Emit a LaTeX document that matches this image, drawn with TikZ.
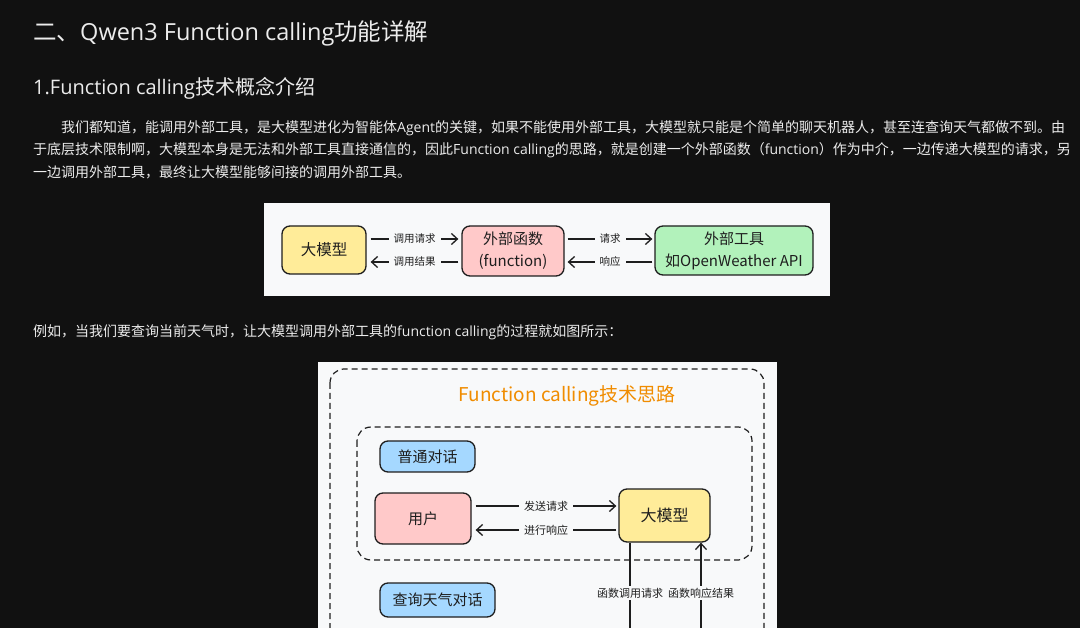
\documentclass[tikz,border=0pt]{standalone}
\usepackage{fontspec}
\setmainfont{Noto Sans CJK SC}
\newfontfamily\lat{Open Sans}
\usetikzlibrary{arrows.meta, calc}
\definecolor{pagebg}{HTML}{111111}
\definecolor{pagetext}{HTML}{ECECEC}
\definecolor{diagbg}{HTML}{F8F9FA}
\definecolor{strokecol}{HTML}{1E1E1E}
\definecolor{fillyellow}{HTML}{FFEC99}
\definecolor{fillred}{HTML}{FFC9C9}
\definecolor{fillgreen}{HTML}{B2F2BB}
\definecolor{fillblue}{HTML}{A5D8FF}
\definecolor{titleorange}{HTML}{F08C00}

\begin{document}
\begin{tikzpicture}[x=1pt, y=-1pt,
    every node/.style={inner sep=0pt},
    heading/.style={anchor=west, text=pagetext},
    para/.style={anchor=west, text=pagetext, font=\fontsize{14}{16}\selectfont},
    card/.style={draw=strokecol, line width=1.3pt, rounded corners=8pt, text=strokecol, align=center},
    flow/.style={draw=strokecol, line width=1.3pt, -{Straight Barb[length=6pt, width=11pt]}},
    tag/.style={fill=diagbg, inner xsep=5pt, inner ysep=2pt, text=strokecol},
    frame/.style={draw=strokecol, line width=1.2pt, dash pattern=on 6pt off 4pt, rounded corners=14pt}
]

\useasboundingbox (0,0) rectangle (1080,628);
\clip (0,0) rectangle (1080,628);
\fill[pagebg] (0,0) rectangle (1080,628);

% Page text
\node[heading, font=\fontsize{23.5}{26}\selectfont] (title) at (33,33) {二、{\lat Qwen3 Function calling}功能详解};
\node[heading, font=\fontsize{20}{24}\selectfont] (subtitle) at (33,88) {{\lat 1.Function calling}技术概念介绍};

\node[para] (line1) at (61,128) {我们都知道，能调用外部工具，是大模型进化为智能体{\lat Agent}的关键，如果不能使用外部工具，大模型就只能是个简单的聊天机器人，甚至连查询天气都做不到。由};
\node[para] (line2) at (33,150) {于底层技术限制啊，大模型本身是无法和外部工具直接通信的，因此{\lat Function calling}的思路，就是创建一个外部函数（{\lat function}）作为中介，一边传递大模型的请求，另};
\node[para] (line3) at (33,172) {一边调用外部工具，最终让大模型能够间接的调用外部工具。};

\node[para] (line4) at (33,332) {例如，当我们要查询当前天气时，让大模型调用外部工具的{\lat function calling}的过程就如图所示：};

% Diagram 1
\fill[diagbg] (264,203) rectangle (830,296);

\node[card, fill=fillyellow, minimum width=84pt, minimum height=48pt, font=\fontsize{15.5}{22}\selectfont] (llmA) at (324,250) {大模型};
\node[card, fill=fillred, minimum width=102pt, minimum height=50pt, font=\fontsize{15}{22}\selectfont] (funcA) at (513,251) {外部函数\\(function)};
\node[card, fill=fillgreen, minimum width=158pt, minimum height=49pt, font=\fontsize{15}{22}\selectfont] (toolA) at (734,250.5) {外部工具\\如OpenWeather API};

\begin{scope}[every node/.append style={font=\fontsize{10.5}{12}\selectfont}]
\draw[flow] ($(llmA.east)+(4,-11)$) -- node[tag] {调用请求} ($(funcA.west)+(-3,-12)$);
\draw[flow] ($(funcA.west)+(-3,11)$) -- node[tag] {调用结果} ($(llmA.east)+(4,12)$);
\draw[flow] ($(funcA.east)+(3,-12)$) -- node[tag] {请求} ($(toolA.west)+(-2,-11.5)$);
\draw[flow] ($(toolA.west)+(-2,11.5)$) -- node[tag] {响应} ($(funcA.east)+(3,11)$);
\end{scope}

% Diagram 2
\fill[diagbg] (318,362) rectangle (777,640);
\draw[frame] (330,369) rectangle (764,700);
\node[font=\fontsize{19}{22}\selectfont, text=titleorange] (flowtitle) at (567,396) {Function calling技术思路};
\draw[frame] (357,427) rectangle (752,560);

\node[card, fill=fillblue, minimum width=95pt, minimum height=31pt, font=\fontsize{15}{18}\selectfont] (chat) at (427.5,456.5) {普通对话};
\node[card, fill=fillred, minimum width=96pt, minimum height=51pt, font=\fontsize{15}{18}\selectfont] (user) at (423,518.5) {用户};
\node[card, fill=fillyellow, minimum width=91pt, minimum height=53pt, font=\fontsize{16}{18}\selectfont] (llmB) at (664.5,515.5) {大模型};
\node[card, fill=fillblue, minimum width=115pt, minimum height=34pt, font=\fontsize{15}{18}\selectfont] (weather) at (437.5,600) {查询天气对话};

\coordinate (reqend) at (630,644);
\coordinate (resstart) at (701,644);

\begin{scope}[every node/.append style={font=\fontsize{11}{12}\selectfont}]
\draw[flow] ($(user.east)+(4,-12.5)$) -- node[tag] {发送请求} ($(llmB.west)+(-2,-9.5)$);
\draw[flow] ($(llmB.west)+(-2,14.5)$) -- node[tag] {进行响应} ($(user.east)+(4,11.5)$);
\draw[flow] (llmB.south -| reqend) -- node[tag] {函数调用请求} (reqend);
\draw[flow] (resstart) -- node[tag] {函数响应结果} (llmB.south -| resstart);
\end{scope}

\end{tikzpicture}
\end{document}
